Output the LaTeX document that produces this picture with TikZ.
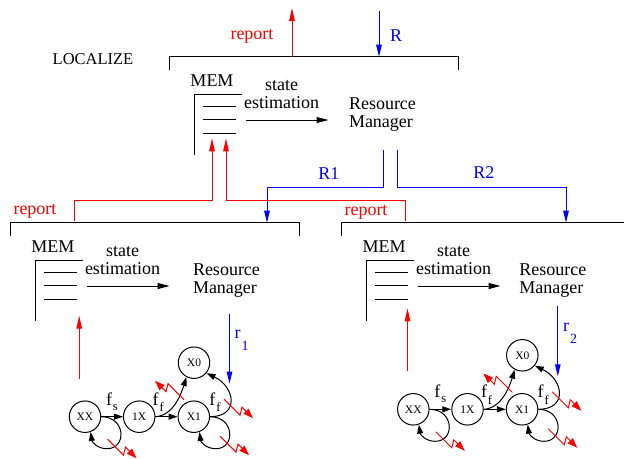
\documentclass[tikz,border=0pt]{standalone}
\usepackage{fontspec}
\setmainfont{Liberation Serif}
\usetikzlibrary{arrows.meta}
\definecolor{rred}{RGB}{255,0,0}
\definecolor{bblue}{RGB}{0,0,255}
\tikzset{
  ln/.style={line width=1pt, black},
  rd/.style={line width=1pt, rred},
  bl/.style={line width=1pt, bblue},
  tipR/.style={-{Triangle[length=13pt,width=5.5pt]}},
  tipBl/.style={-{Triangle[length=12pt,width=5.5pt]}},
  tipK/.style={-{Triangle[length=12pt,width=6pt]}},
  tipS/.style={-{Triangle[length=9pt,width=6pt]}},
  big/.style={font=\fontsize{18}{18}\selectfont, inner sep=0pt, outer sep=0pt},
  st/.style={circle, draw, line width=1pt, minimum size=31.5pt, inner sep=0pt, font=\fontsize{11.5}{12}\selectfont},
  bolt/.style={rred, line width=1pt, line join=miter, -{Triangle[length=10pt,width=7pt]}},
}
% panel: #1 name, #2 dx, #3 dy, #4 x of Resource Manager (before shift)
\newcommand\drawpanel[4]{%
\begin{scope}[shift={(#2,#3)}]
  \draw[ln] (10.7,236) -- (10.7,222.7) -- (299.3,222.7) -- (299.3,236);
  \node[big,anchor=base] (#1mem) at (53,252) {MEM};
  \draw[ln] (35.7,321) -- (35.7,260) -- (82.7,260);
  \draw[ln] (44,272.7) -- (76.7,272.7) (44,285.7) -- (76.7,285.7) (44,299) -- (76.7,299);
  \node[big,anchor=north,align=center] (#1se) at (122.5,246.6) {state\\estimation};
  \coordinate (#1a) at (87,286);
  \coordinate (#1b) at (169.5,286);
  \draw[ln,tipK] (#1a) -- (#1b);
  \node[big,anchor=north west,align=left] (#1rm) at (#4,264.1) {Resource\\Manager};
\end{scope}}
\newcommand\boltdr[2]{\draw[bolt] (#1,#2) -- ++(16,16) -- ++(2,-8) -- ++(11,11);}
\newcommand\boltul[2]{\draw[bolt] (#1,#2) -- ++(-16,-16) -- ++(-2,8) -- ++(-11,-11);}
% graph: #1 prefix, #2 x, #3 y, #4 digit
\newcommand\drawgraph[4]{%
\begin{scope}[shift={(#2,#3)}]
  \node[st] (#1XX) at (0,0) {XX};
  \node[st] (#1OX) at (54.2,0) {1X};
  \node[st] (#1XI) at (108.8,0) {X1};
  \node[st] (#1XO) at (109,-54) {X0};
  \draw[ln,tipS] (#1XX) -- (#1OX);
  \draw[ln,tipS] (#1OX) -- (#1XI);
  \draw[ln,tipS] (#1OX.east) .. controls (88,-1) and (96,-22) .. (#1XO.-118);
  \draw[ln,tipS] (#1XI.east) .. controls (155,0) and (150,-30) .. (#1XO.-40);
  \draw[ln,tipS] (#1XX.east) .. controls (41,0) and (42,32) .. (22,32) .. controls (12,32) and (7,25) .. (#1XX.-70);
  \draw[ln,tipS] (#1XI.east) .. controls (149.8,0) and (150.8,32) .. (130.8,32) .. controls (120.8,32) and (115.8,25) .. (#1XI.-70);
  \node[big,anchor=base west] (#1fs) at (21,-11.7) {f\hspace{1pt}\raisebox{-5pt}{\fontsize{12.5}{12.5}\selectfont s}};
  \node[big,anchor=base west] (#1ffa) at (67.7,-11.7) {f\hspace{1pt}\raisebox{-6.5pt}{\fontsize{12.5}{12.5}\selectfont f}};
  \node[big,anchor=base west] (#1ffb) at (124.3,-11.7) {f\hspace{1pt}\raisebox{-6.5pt}{\fontsize{12.5}{12.5}\selectfont f}};
  \coordinate (#1rs) at (-5.8,-38);
  \coordinate (#1re) at (-5.8,-101);
  \draw[rd,tipR] (#1rs) -- (#1re);
  \coordinate (#1bs) at (144.5,-103);
  \coordinate (#1be) at (144.5,-33);
  \draw[bl,tipBl] (#1bs) -- (#1be);
  \node[big,anchor=base west,text=bblue] (#1rl) at (149.7,-78) {r\hspace{1pt}\raisebox{-12pt}{\fontsize{14}{14}\selectfont #4}};
  \boltul{99}{-17}
  \boltdr{139}{-17.5}
  \boltdr{22.5}{22.5}
  \boltdr{135}{19.5}
\end{scope}}

\begin{document}
\begin{tikzpicture}[x=1pt,y=-1pt]
\useasboundingbox (0,0) rectangle (624,458);
\node[font=\fontsize{16.5}{16.5}\selectfont, inner sep=0pt, anchor=base] (loc) at (93,64) {LOCALIZE};

% panels
\drawpanel{T}{159}{-166}{190}
\drawpanel{L}{0}{0}{193}
\drawpanel{Q}{331}{0}{188.3}

% top connectors
\coordinate (repS) at (292,56.7);
\coordinate (repE) at (292,8);
\draw[rd,tipR] (repS) -- (repE);
\node[big,anchor=base,text=rred] (repT) at (252,39) {report};
\coordinate (RS) at (379,11);
\coordinate (RE) at (379,56.7);
\draw[bl,tipBl] (RS) -- (RE);
\node[big,anchor=base west,text=bblue] (Rl) at (390,41) {R};

% R1 and R2
\coordinate (r1s) at (383,150);
\coordinate (r1e) at (267,222.7);
\draw[bl,tipBl] (r1s) -- ++(0,37) -| (r1e);
\node[big,anchor=base west,text=bblue] (R1l) at (318.3,179) {R1};
\coordinate (r2s) at (397,150);
\coordinate (r2e) at (566,222.7);
\draw[bl,tipBl] (r2s) -- ++(0,37) -| (r2e);
\node[big,anchor=base west,text=bblue] (R2l) at (473.3,178.5) {R2};

% reports up
\coordinate (lrs) at (74,220.7);
\coordinate (lre) at (212,138.3);
\draw[rd,tipR] (lrs) -- ++(0,-20.7) -| (lre);
\node[big,anchor=base,text=rred] (repL) at (35,214.5) {report};
\coordinate (qrs) at (405.3,220.7);
\coordinate (qre) at (226,138.3);
\draw[rd,tipR] (qrs) -- ++(0,-20) -| (qre);
\node[big,anchor=base,text=rred] (repQ) at (366,215) {report};

% graphs
\drawgraph{g}{85}{416.7}{1}
\drawgraph{h}{413.3}{409.3}{2}
\end{tikzpicture}
\end{document}
